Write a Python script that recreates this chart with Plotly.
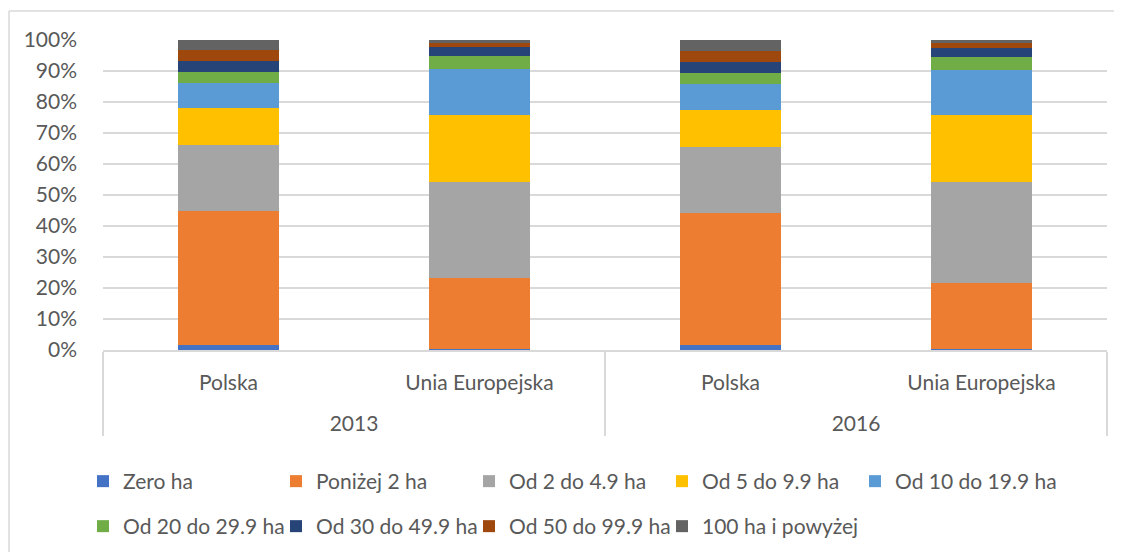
import plotly.graph_objects as go

years = ["2013", "2013", "2016", "2016"]
regions = ["Polska", "Unia Europejska", "Polska", "Unia Europejska"]

series_names = ["Zero ha", "Poniżej 2 ha", "Od 2 do 4.9 ha", "Od 5 do 9.9 ha",
                "Od 10 do 19.9 ha", "Od 20 do 29.9 ha", "Od 30 do 49.9 ha",
                "Od 50 do 99.9 ha", "100 ha i powyżej"]

zero_ha = [1.5, 0.2, 1.7, 0.2]
below_2 = [43.2, 22.9, 42.4, 21.3]
from_2_to_4_9 = [21.4, 31.2, 21.3, 32.7]
from_5_to_9_9 = [11.9, 21.5, 12.1, 21.6]
from_10_to_19_9 = [8.2, 14.7, 8.4, 14.4]
from_20_to_29_9 = [3.4, 4.3, 3.5, 4.3]
from_30_to_49_9 = [3.5, 2.8, 3.5, 3.0]
from_50_to_99_9 = [3.6, 1.5, 3.7, 1.4]
over_100 = [3.3, 0.9, 3.4, 1.1]

series_values = [zero_ha, below_2, from_2_to_4_9, from_5_to_9_9, from_10_to_19_9,
                 from_20_to_29_9, from_30_to_49_9, from_50_to_99_9, over_100]

colors = ["#4472C4", "#ED7D31", "#A5A5A5", "#FFC000", "#5B9BD5",
          "#70AD47", "#264478", "#9E480E", "#636363"]

FONT = "Lato"
TXT = "#595959"
GRID = "#D9D9D9"

# inner labels get a trailing blank line so the outer (year) level sits lower
regions_lbl = [r + "<br> " for r in regions]

# one legend per entry, laid out in two rows like the original
PER_ROW = 5
legend_ids = ["legend" if i == 0 else f"legend{i + 1}" for i in range(len(series_names))]

fig = go.Figure()
for name, vals, col, lg in zip(series_names, series_values, colors, legend_ids):
    fig.add_trace(go.Bar(
        x=[years, regions_lbl], y=vals, name=name,
        marker=dict(color=col, line=dict(width=0)),
        legend=lg,
    ))

# the page body adds an 8px offset, so the figure is 8px smaller and shifted
OFF = 8
W, H = 1122 - OFF, 552 - OFF
ml, mr, mt, mb = 103 - OFF, 15, 40 - OFF, 202
pw = W - ml - mr
ph = H - mt - mb

def px_x(x):
    return (x - OFF - ml) / pw

def px_y(y):
    return (H - mb - (y - OFF)) / ph

def leg(x, y):
    return dict(orientation="h", xanchor="left", yanchor="top",
                entrywidth=200, entrywidthmode="pixels", traceorder="normal",
                font=dict(family=FONT, size=21, color=TXT), itemclick=False,
                bgcolor="rgba(0,0,0,0)", x=px_x(x), y=px_y(y))

STEP = 193
LX = 83
ROWS_Y = [461, 506]

legend_layout = {}
for i, lg in enumerate(legend_ids):
    legend_layout[lg] = leg(LX + (i % PER_ROW) * STEP, ROWS_Y[i // PER_ROW])

fig.update_layout(
    width=W, height=H,
    margin=dict(l=ml, r=mr, t=mt, b=mb, autoexpand=False),
    paper_bgcolor="white", plot_bgcolor="white",
    barmode="stack", barnorm="percent", bargap=0.6,
    font=dict(family=FONT, size=21, color=TXT),
    showlegend=True,
    xaxis=dict(type="multicategory", showline=True, linecolor=GRID, linewidth=1.5,
               showdividers=True, dividercolor=GRID, dividerwidth=1.5,
               tickfont=dict(family=FONT, size=21, color=TXT), showgrid=False,
               ticklabelstandoff=13, automargin=False),
    yaxis=dict(range=[0, 100], dtick=10, ticksuffix="%", showgrid=True,
               gridcolor=GRID, gridwidth=1.5, zeroline=False,
               tickfont=dict(family=FONT, size=21, color=TXT),
               ticklabelstandoff=25, automargin=False),
    shapes=[
        dict(type="line", xref="paper", yref="paper", x0=px_x(9), x1=px_x(1130),
             y0=px_y(11), y1=px_y(11), line=dict(color=GRID, width=1.5)),
        dict(type="line", xref="paper", yref="paper", x0=px_x(9), x1=px_x(9),
             y0=px_y(11), y1=px_y(560), line=dict(color=GRID, width=1.5)),
    ],
    **legend_layout,
)

fig.write_html("out.html")
